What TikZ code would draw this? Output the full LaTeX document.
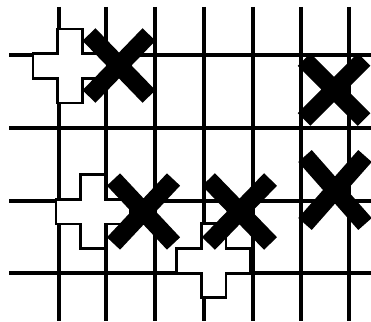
\documentclass[tikz,border=0pt]{standalone}
\begin{document}
\begin{tikzpicture}[x=1pt,y=-1pt,
  gridline/.style={line width=3.1pt},
  plusshape/.style={draw, fill=white, line width=2.6pt, line join=miter},
  xmark/.style={line width=18pt},
  plussign/.pic={\draw[plusshape] (-12.3,-37) -- (12.3,-37) -- (12.3,-12.3) -- (37,-12.3) -- (37,12.3) -- (12.3,12.3) -- (12.3,37) -- (-12.3,37) -- (-12.3,12.3) -- (-37,12.3) -- (-37,-12.3) -- (-12.3,-12.3) -- cycle;}]
\useasboundingbox (0,0) rectangle (371,321);
% grid
\foreach \x in {59,106,155,204,253,301,349} \draw[gridline] (\x,7) -- (\x,321);
\foreach \y in {55,128,201,273} \draw[gridline] (9,\y) -- (371,\y);
% white plus signs
\pic at (70,66) {plussign};
\pic at (93,211.5) {plussign};
\pic at (213.5,260.5) {plussign};
% black crosses
\draw[xmark] (89,34.5) -- (149,96.5) (149,34.5) -- (89,96.5);
\draw[xmark] (304,59.5) -- (364,119.5) (364,59.5) -- (304,119.5);
\draw[xmark] (113.5,179.5) -- (173.5,243.5) (173.5,179.5) -- (113.5,243.5);
\draw[xmark] (208.5,179.5) -- (270.5,243.5) (270.5,179.5) -- (208.5,243.5);
\draw[xmark] (305,156) -- (365,224) (365,156) -- (305,224);
\end{tikzpicture}
\end{document}
